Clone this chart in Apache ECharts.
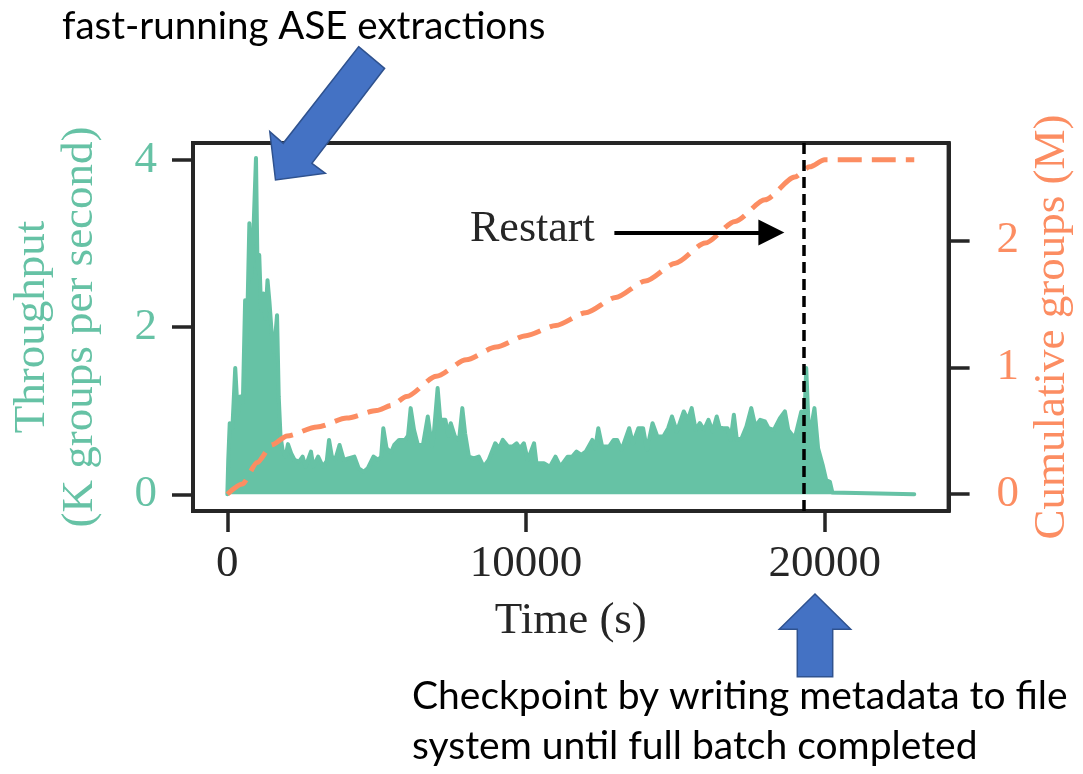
<!DOCTYPE html>
<html>
<head>
<meta charset="utf-8">
<script src="https://cdn.jsdelivr.net/npm/echarts@6/dist/echarts.min.js"></script>
<style>
  html, body { margin: 0; padding: 0; background: #fff; }
  #chart { width: 1083px; height: 774px; }
</style>
</head>
<body>
<div id="chart"></div>
<script>
// throughput (upper envelope of the raw trace): [time (s), K groups per second]
const throughput = [
  [0, 0], [30, 0.41], [80, 0.85], [170, 0.80], [264, 1.51], [350, 0.95], [430, 1.17],
  [520, 1.10], [595, 2.32], [650, 1.80], [737, 3.24], [800, 2.60], [850, 2.90],
  [959, 4.02], [1010, 2.70], [1068, 2.86], [1130, 2.20], [1200, 2.40], [1270, 2.10],
  [1345, 2.56], [1410, 2.30], [1490, 1.90], [1560, 1.70], [1664, 2.14], [1720, 1.17],
  [1780, 0.70], [1850, 0.53], [1950, 0.45], [2030, 0.60], [2138, 0.49], [2250, 0.41],
  [2400, 0.39], [2520, 0.45], [2620, 0.33], [2700, 0.41], [2800, 0.51], [2880, 0.33],
  [3040, 0.45], [3200, 0.33], [3330, 0.40], [3405, 0.65], [3500, 0.45], [3620, 0.42],
  [3758, 0.59], [3900, 0.41], [4050, 0.43], [4254, 0.45], [4400, 0.31], [4562, 0.27],
  [4700, 0.31], [4893, 0.45], [5050, 0.41], [5150, 0.45], [5223, 0.79], [5330, 0.55],
  [5480, 0.50], [5587, 0.59], [5750, 0.65], [5950, 0.65], [6050, 0.70], [6138, 1.03],
  [6250, 0.77], [6380, 0.59], [6550, 0.59], [6711, 0.93], [6850, 0.57], [6920, 0.75],
  [7041, 1.27], [7130, 0.89], [7300, 0.89], [7400, 0.70], [7480, 0.85], [7620, 0.69],
  [7760, 0.65], [7868, 1.03], [7960, 0.73], [8088, 0.45], [8250, 0.43], [8419, 0.45],
  [8580, 0.33], [8750, 0.41], [8970, 0.61], [9100, 0.55], [9223, 0.65], [9400, 0.57],
  [9550, 0.57], [9686, 0.61], [9800, 0.55], [9928, 0.61], [10060, 0.41], [10270, 0.61],
  [10350, 0.37], [10600, 0.37], [10800, 0.33], [10986, 0.45], [11150, 0.33], [11394, 0.45],
  [11550, 0.45], [11692, 0.51], [11850, 0.47], [12000, 0.51], [12220, 0.65], [12320, 0.55],
  [12420, 0.79], [12550, 0.57], [12780, 0.57], [12936, 0.65], [13050, 0.65], [13200, 0.53],
  [13455, 0.79], [13580, 0.61], [13763, 0.79], [13920, 0.79], [14050, 0.53], [14237, 0.85],
  [14400, 0.69], [14600, 0.69], [14760, 0.79], [14886, 0.93], [15050, 0.75], [15283, 0.99],
  [15420, 0.89], [15548, 1.03], [15680, 0.77], [15820, 0.85], [15960, 0.77], [16110, 0.89],
  [16250, 0.75], [16386, 0.93], [16480, 0.80], [16600, 0.79], [16750, 0.79], [16850, 0.65],
  [16960, 0.95], [17060, 0.65], [17220, 0.67], [17380, 0.81], [17543, 1.03], [17680, 0.81],
  [17840, 0.89], [18000, 0.87], [18120, 0.79], [18300, 0.77], [18502, 0.91], [18668, 0.99],
  [18780, 0.77], [19000, 0.67], [19218, 0.99], [19300, 0.70], [19383, 1.51], [19480, 0.65],
  [19658, 1.03], [19780, 0.55], [19934, 0.35], [20050, 0.17], [20175, 0.15], [20260, 0.02],
  [20300, 0], [23000, 0]
];

// cumulative groups processed: [time (s), M groups]
const cumulative = [
  [0, 0], [500, 0.08], [1000, 0.25], [1500, 0.39], [2000, 0.46], [3000, 0.53], [4000, 0.60],
  [5000, 0.66], [5500, 0.70], [6000, 0.77], [7000, 0.93], [8000, 1.06], [9000, 1.16],
  [10000, 1.25], [11000, 1.33], [12000, 1.43], [13000, 1.55], [14000, 1.68], [15000, 1.82],
  [16000, 1.98], [17000, 2.15], [18000, 2.32], [19000, 2.50], [19500, 2.58], [20000, 2.636],
  [21000, 2.636], [22000, 2.636], [23000, 2.636]
];

const restartTime = 19306;
const restartArrow = [[12959, 2.062], [18215, 2.062]];

const xTicks = [0, 10000, 20000];
const leftTicks = [0, 2, 4];
const rightTicks = [0, 1, 2];

const green = '#66c2a5';
const orange = '#fc8d62';
const ink = '#262626';
const serif = '"Liberation Serif", "DejaVu Serif", serif';
const sans = 'Lato, "Open Sans", sans-serif';

const plain = v => String(v);

const chart = echarts.init(document.getElementById('chart'));

const option = {
  animation: false,
  backgroundColor: '#fff',
  grid: {
    left: 191, right: 126, top: 143, bottom: 263,
    show: true, borderColor: ink, borderWidth: 4
  },
  xAxis: {
    type: 'value',
    min: -1150,
    max: 24150,
    axisLine: { show: true, onZero: false, lineStyle: { color: ink, width: 4 } },
    axisTick: { show: true, length: 21, customValues: xTicks, lineStyle: { color: ink, width: 3.5 } },
    axisLabel: { customValues: xTicks, formatter: plain, margin: 31, fontSize: 45, fontFamily: serif, color: ink },
    splitLine: { show: false },
    name: 'Time (s)',
    nameLocation: 'middle',
    nameGap: 88,
    nameTextStyle: { fontSize: 45, fontFamily: serif, color: ink }
  },
  yAxis: [
    {
      type: 'value',
      position: 'left',
      min: -0.2,
      max: 4.2,
      axisLine: { show: true, onZero: false, lineStyle: { color: ink, width: 4 } },
      axisTick: { show: true, length: 21, customValues: leftTicks, lineStyle: { color: ink, width: 3.5 } },
      axisLabel: { customValues: leftTicks, formatter: plain, margin: 36, fontSize: 45, fontFamily: serif, color: green },
      splitLine: { show: false },
      name: 'Throughput\n(K groups per second)',
      nameLocation: 'middle',
      nameRotate: 90,
      nameGap: 89,
      nameTextStyle: { fontSize: 45, lineHeight: 48, fontFamily: serif, color: green }
    },
    {
      type: 'value',
      position: 'right',
      min: -0.132,
      max: 2.768,
      axisLine: { show: true, onZero: false, lineStyle: { color: ink, width: 4 } },
      axisTick: { show: true, length: 21, customValues: rightTicks, lineStyle: { color: ink, width: 3.5 } },
      axisLabel: { customValues: rightTicks, formatter: plain, margin: 48, fontSize: 45, fontFamily: serif, color: orange },
      splitLine: { show: false },
      name: 'Cumulative groups (M)',
      nameLocation: 'middle',
      nameRotate: 90,
      nameGap: 76,
      nameTextStyle: { fontSize: 45, fontFamily: serif, color: orange }
    }
  ],
  series: [
    {
      name: 'Throughput',
      type: 'line',
      yAxisIndex: 0,
      data: throughput,
      symbol: 'none',
      z: 2,
      lineStyle: { color: green, width: 4, cap: 'round', join: 'round' },
      itemStyle: { color: green },
      areaStyle: { color: green, opacity: 1 },
      markLine: {
        silent: true,
        symbol: 'none',
        label: { show: false },
        lineStyle: { color: '#000', width: 3.5, type: [11, 6] },
        data: [{ xAxis: restartTime }]
      }
    },
    {
      name: 'Cumulative',
      type: 'line',
      yAxisIndex: 1,
      data: cumulative,
      symbol: 'none',
      smooth: 0.25,
      smoothMonotone: 'x',
      z: 4,
      lineStyle: { color: orange, width: 5, type: [24, 10] },
      itemStyle: { color: orange },
      markLine: {
        silent: true,
        symbol: ['none', 'triangle'],
        symbolSize: 26,
        label: { show: false },
        lineStyle: { color: '#000', width: 4, type: 'solid' },
        data: [[{ coord: restartArrow[0] }, { coord: restartArrow[1] }]]
      }
    }
  ],
  graphic: [
    {
      type: 'text', z: 100,
      style: { text: 'Restart', x: 470, y: 229, font: '44px ' + serif, fill: ink, textVerticalAlign: 'middle' }
    },
    {
      type: 'text', z: 100,
      style: { text: 'fast-running ASE extractions', x: 62, y: 27, font: '38.5px ' + sans, fill: '#000', textVerticalAlign: 'middle' }
    },
    {
      type: 'text', z: 100,
      style: { text: 'Checkpoint by writing metadata to file', x: 412, y: 696, font: '39px ' + sans, fill: '#000', textVerticalAlign: 'middle' }
    },
    {
      type: 'text', z: 100,
      style: { text: 'system until full batch completed', x: 412, y: 746, font: '39px ' + sans, fill: '#000', textVerticalAlign: 'middle' }
    },
    {
      type: 'polygon', z: 100,
      shape: { points: [[358.6, 46.7], [384.6, 68.3], [311.9, 163.3], [325.3, 173.3], [275.5, 180], [269.8, 131.7], [283.2, 143.3]] },
      style: { fill: '#4472c4', stroke: '#2f528f', lineWidth: 1.5 }
    },
    {
      type: 'polygon', z: 100,
      shape: { points: [[815, 594], [850.7, 629.3], [832.7, 629.3], [832.7, 676.7], [797.3, 676.7], [797.3, 629.3], [779.3, 629.3]] },
      style: { fill: '#4472c4', stroke: '#2f528f', lineWidth: 1.5 }
    }
  ]
};

chart.setOption(option);
</script>
</body>
</html>
